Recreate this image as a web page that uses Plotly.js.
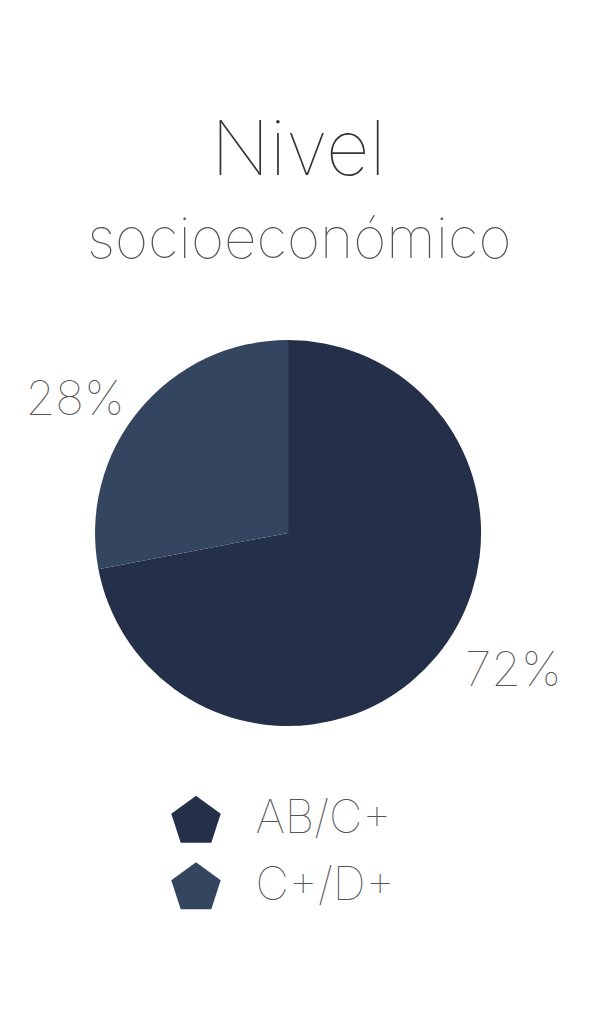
<!DOCTYPE html>
<html>
<head>
<meta charset="utf-8">
<script src="https://cdn.plot.ly/plotly-3.0.1.min.js"></script>
<style>
  html, body { margin: 0; padding: 0; background: #fff; }
  #chart { width: 597px; height: 1024px; }
</style>
</head>
<body>
<div id="chart"></div>
<script>
var labels = ['AB/C+', 'C+/D+'];
var values = [72, 28];
var colors = ['#243049', '#34465f'];

var thin = 'Inter, Lato, sans-serif';

var pie = {
  type: 'pie',
  labels: labels,
  values: values,
  marker: { colors: colors, line: { width: 0 } },
  direction: 'clockwise',
  rotation: 0,
  sort: false,
  textposition: 'outside',
  texttemplate: ['\u00a0%{percent:.0%}', '%{percent:.0%}'],
  outsidetextfont: { family: thin, size: 48, color: '#555', weight: 100 },
  domain: { x: [0.159, 0.806], y: [0.291, 0.668] },
  showlegend: false,
  hoverinfo: 'label+percent'
};

// legend drawn as a pentagon marker per category
var legend = {
  type: 'scatter',
  mode: 'markers+text',
  x: labels.map(function () { return 0; }),
  y: labels,
  text: labels.map(function (l) { return '\u00a0\u00a0' + l; }),
  textposition: 'middle right',
  textfont: { family: thin, size: 46, color: '#555', weight: 100 },
  marker: { symbol: 'pentagon', size: 52, color: colors, line: { width: 0 } },
  showlegend: false,
  hoverinfo: 'skip',
  cliponaxis: false
};

var layout = {
  width: 597,
  height: 1024,
  margin: { l: 0, r: 0, t: 0, b: 0 },
  paper_bgcolor: '#fff',
  plot_bgcolor: '#fff',
  title: {
    text: 'Nivel',
    font: { family: thin, size: 76, color: '#333', weight: 100 },
    x: 0.5,
    xanchor: 'center',
    y: 0.881,
    yanchor: 'top'
  },
  annotations: [{
    text: 'socioeconómico',
    font: { family: thin, size: 57, color: '#555', weight: 100 },
    xref: 'paper', yref: 'paper',
    x: 0.5, xanchor: 'center',
    y: 0.768, yanchor: 'middle',
    showarrow: false
  }],
  xaxis: { range: [-196, 401], domain: [0, 1], visible: false, fixedrange: true },
  yaxis: { type: 'category', range: [1.5, -0.5], domain: [0.10, 0.23], visible: false, fixedrange: true },
  showlegend: false
};

Plotly.newPlot('chart', [pie, legend], layout, { displayModeBar: false, staticPlot: true });
</script>
</body>
</html>
